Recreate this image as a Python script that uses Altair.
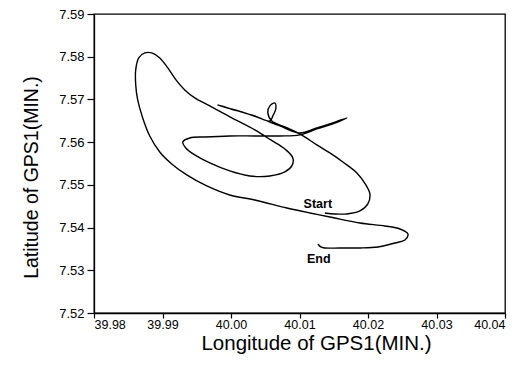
import altair as alt
import pandas as pd

lon = [40.01370, 40.01516, 40.01692, 40.01882, 40.01998, 40.02028, 40.01969, 40.01838, 40.01633, 40.01443,
       40.01253, 40.01005, 40.00786, 40.00596, 40.00538, 40.00567, 40.00640, 40.00654, 40.00611, 40.00567,
       40.00348, 40.00099, 39.99895, 39.99807, 39.99953, 40.00202, 40.00450, 40.00713, 40.01005, 40.01253,
       40.01487, 40.01692, 40.01487, 40.01253, 40.01005, 40.00713, 40.00348, 39.99982, 39.99617, 39.99398,
       39.99296, 39.99340, 39.99471, 39.99690, 39.99982, 40.00275, 40.00567, 40.00786, 40.00888, 40.00903,
       40.00786, 40.00581, 40.00348, 40.00012, 39.99690, 39.99471, 39.99325, 39.99208, 39.99077, 39.98960,
       39.98843, 39.98741, 39.98653, 39.98609, 39.98609, 39.98638, 39.98711, 39.98814, 39.98960, 39.99135,
       39.99354, 39.99646, 39.99982, 40.00348, 40.00815, 40.01151, 40.01443, 40.01882, 40.02247, 40.02466,
       40.02583, 40.02539, 40.02393, 40.02145, 40.01882, 40.01589, 40.01370, 40.01312, 40.01268]
lat = [7.54342, 7.54319, 7.54319, 7.54389, 7.54553, 7.54787, 7.54998, 7.55279, 7.55536, 7.55747,
       7.55934, 7.56192, 7.56356, 7.56496, 7.56684, 7.56848, 7.56918, 7.56777, 7.56614, 7.56496,
       7.56614, 7.56731, 7.56824, 7.56871, 7.56801, 7.56684, 7.56543, 7.56379, 7.56215, 7.56333,
       7.56450, 7.56567, 7.56426, 7.56309, 7.56169, 7.56145, 7.56145, 7.56145, 7.56122, 7.56098,
       7.56005, 7.55864, 7.55700, 7.55513, 7.55326, 7.55208, 7.55208, 7.55302, 7.55443, 7.55630,
       7.55841, 7.56051, 7.56286, 7.56567, 7.56848, 7.57035, 7.57222, 7.57433, 7.57738, 7.57972,
       7.58089, 7.58089, 7.57972, 7.57691, 7.57340, 7.56988, 7.56567, 7.56145, 7.55770, 7.55489,
       7.55232, 7.54974, 7.54763, 7.54646, 7.54459, 7.54342, 7.54248, 7.54108, 7.54037, 7.53967,
       7.53850, 7.53710, 7.53639, 7.53546, 7.53522, 7.53522, 7.53522, 7.53546, 7.53616]

label_text = ["Start", "End"]
label_lon = [40.01268, 40.01282]
label_lat = [7.54560, 7.53270]

x_ticks = [39.98, 39.99, 40.00, 40.01, 40.02, 40.03, 40.04]
y_ticks = [7.52, 7.53, 7.54, 7.55, 7.56, 7.57, 7.58, 7.59]

track = pd.DataFrame({"lon": lon, "lat": lat, "step": list(range(len(lon)))})
labels = pd.DataFrame({"text": label_text, "lon": label_lon, "lat": label_lat})

font = "Liberation Sans"

x_enc = alt.X("lon:Q", scale=alt.Scale(domain=[39.98, 40.04], nice=False, zero=False),
              axis=alt.Axis(values=x_ticks, format=".2f", title="Longitude of GPS1(MIN.)",
                            titleFontSize=20.5, titleFontWeight="normal", titleX=222, titleY=20,
                            labelFontSize=12.5, tickSize=5, labelPadding=0, grid=False,
                            domainColor="black", tickColor="black", labelColor="black",
                            titleColor="black", labelFont=font, titleFont=font))
y_enc = alt.Y("lat:Q", scale=alt.Scale(domain=[7.52, 7.59], nice=False, zero=False),
              axis=alt.Axis(values=y_ticks, format=".2f", title="Latitude of GPS1(MIN.)",
                            titleFontSize=19.5, titleFontWeight="normal", titleX=-53, titleY=163,
                            labelFontSize=13, tickSize=7, labelPadding=3, grid=False,
                            domainColor="black", tickColor="black", labelColor="black",
                            titleColor="black", labelFont=font, titleFont=font))

line = alt.Chart(track).mark_line(color="black", strokeWidth=1.4, interpolate="catmull-rom").encode(
    x=x_enc, y=y_enc, order="step:Q")

text = alt.Chart(labels).mark_text(font=font, fontSize=12.5, fontWeight="bold", color="black").encode(
    x="lon:Q", y="lat:Q", text="text:N")

chart = (line + text).properties(
    width=411, height=299,
    autosize=alt.AutoSizeParams(type="none"),
    padding={"left": 94, "top": 14, "right": 25, "bottom": 62},
    background="white",
).configure_view(stroke="black", strokeWidth=1.3).configure_axis(domainWidth=1.3, tickWidth=1.2)

chart.save("out.html", embed_options={"renderer": "svg", "actions": False})
